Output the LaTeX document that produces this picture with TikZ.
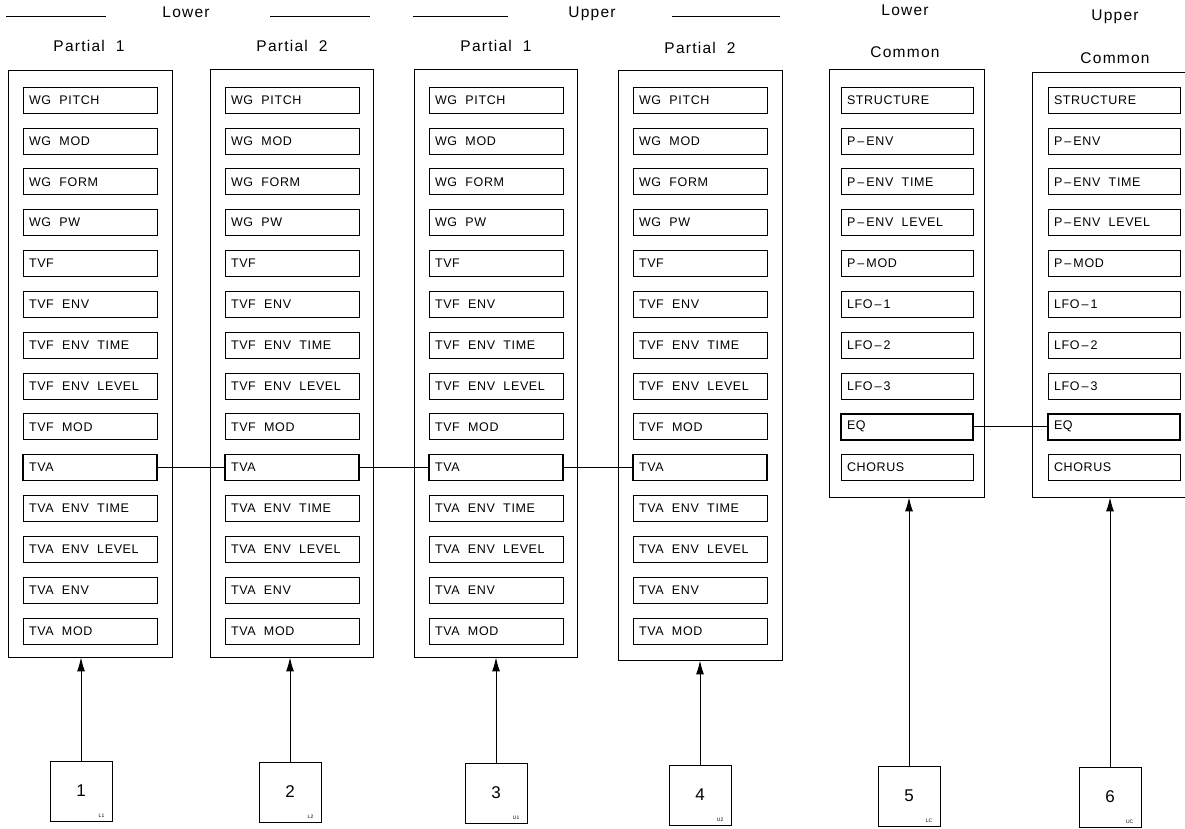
\documentclass[tikz,border=0pt]{standalone}
\usepackage{fontspec}
\newfontfamily\arialf{Liberation Sans}
\newfontfamily\arialw[LetterSpace=5]{Liberation Sans}
\newfontfamily\arialh[LetterSpace=8]{Liberation Sans}
\usetikzlibrary{arrows.meta}
\begin{document}
\begin{tikzpicture}[x=1pt,y=-1pt,
  outerbox/.style={draw, line width=0.9pt, inner sep=0pt},
  cell/.style={draw, line width=0.7pt, minimum height=26pt, inner xsep=6pt, inner ysep=0pt,
     text width=122pt, align=left, font=\arialw\fontsize{12.5}{13}\selectfont},
  ccell/.style={cell, text width=120pt},
  boldcell/.style={line width=1.6pt},
  head/.style={font=\arialh\fontsize{15.5}{17}\selectfont, inner sep=0pt},
  numbox/.style={draw, line width=1pt, minimum width=62pt, minimum height=60pt, inner sep=0pt,
     font=\arialf\fontsize{17}{19}\selectfont},
  sub/.style={font=\arialf\fontsize{5}{6}\selectfont, inner sep=0pt},
  conn/.style={line width=0.8pt},
  arr/.style={line width=1pt, -{Latex[length=14pt,width=8pt]}},
  rule/.style={line width=0.9pt}]
\useasboundingbox (0,0) rectangle (1185,828);
\fill[white] (0,0) rectangle (1185,828);

% top headers
\node[head] (hL) at (186,12) {Lower};
\node[head] (hU) at (592,14) {Upper};
\coordinate (r1a) at (6,16); \coordinate (r1b) at (106,16);
\coordinate (r2a) at (270,16); \coordinate (r2b) at (370,16);
\coordinate (r3a) at (413,16); \coordinate (r3b) at (508,16);
\coordinate (r4a) at (672,16); \coordinate (r4b) at (780,16);
\draw[rule] (r1a) -- (r1b); \draw[rule] (r2a) -- (r2b);
\draw[rule] (r3a) -- (r3b); \draw[rule] (r4a) -- (r4b);
\node[head] (hLC) at (905,10) {Lower};
\node[head] (hUC) at (1115,17) {Upper};

\node[head] (p1) at (89,46) {Partial\ \ 1};
\node[head] (p2) at (292,46) {Partial\ \ 2};
\node[head] (p3) at (496,46) {Partial\ \ 1};
\node[head] (p4) at (700,48) {Partial\ \ 2};
\node[head] (cm1) at (905,52) {Common};
\node[head] (cm2) at (1115,58) {Common};

% outer column boxes
\node[outerbox, minimum width=164pt, minimum height=587pt] (c1) at (90,363.5) {};
\node[outerbox, minimum width=163pt, minimum height=588pt] (c2) at (291.5,363) {};
\node[outerbox, minimum width=163pt, minimum height=588pt] (c3) at (495.5,363) {};
\node[outerbox, minimum width=164pt, minimum height=590pt] (c4) at (700,365) {};
\node[outerbox, minimum width=155pt, minimum height=428pt] (c5) at (906.5,283) {};
\node[outerbox, minimum width=158pt, minimum height=425pt] (c6) at (1111,284.5) {};

% partial cells
\foreach \col/\cx in {1/90,2/292,3/496,4/700}{
  \foreach \t [count=\i] in {WG\ \ PITCH,WG\ \ MOD,WG\ \ FORM,WG\ \ PW,TVF,TVF\ \ ENV,TVF\ \ ENV\ \ TIME,TVF\ \ ENV\ \ LEVEL,TVF\ \ MOD,TVA,TVA\ \ ENV\ \ TIME,TVA\ \ ENV\ \ LEVEL,TVA\ \ ENV,TVA\ \ MOD}{
    \ifnum\i=10
      \node[cell, boldcell] (k\col-\i) at (\cx,{100+40.85*(\i-1)}) {\t};
    \else
      \node[cell] (k\col-\i) at (\cx,{100+40.85*(\i-1)}) {\t};
    \fi
  }
}
% common cells
\foreach \col/\cx in {5/907,6/1114}{
  \foreach \t [count=\i] in {STRUCTURE,P\,–\,ENV,P\,–\,ENV\ \ TIME,P\,–\,ENV\ \ LEVEL,P\,–\,MOD,LFO\,–\,1,LFO\,–\,2,LFO\,–\,3,EQ,CHORUS}{
    \ifnum\i=9
      \node[ccell, boldcell] (k\col-\i) at (\cx,{100+40.85*(\i-1)}) {\t};
    \else
      \node[ccell] (k\col-\i) at (\cx,{100+40.85*(\i-1)}) {\t};
    \fi
  }
}

% links
\draw[conn] (k1-10.east) -- (k2-10.west);
\draw[conn] (k2-10.east) -- (k3-10.west);
\draw[conn] (k3-10.east) -- (k4-10.west);
\draw[conn] (k5-9.east) -- (k6-9.west);

% number boxes
\node[numbox] (b1) at (81,791) {1};
\node[numbox] (b2) at (290,792) {2};
\node[numbox] (b3) at (496,793) {3};
\node[numbox] (b4) at (700,795) {4};
\node[numbox] (b5) at (909,796) {5};
\node[numbox] (b6) at (1110,797) {6};
\foreach \b/\s in {1/L1,2/L2,3/U1,4/U2,5/LC,6/UC}{
  \node[sub, anchor=south east] (s\b) at ([xshift=-8pt,yshift=4pt]b\b.south east) {\s};
}

% arrows
\foreach \b in {1,...,6}{
  \draw[arr] (b\b.north) -- (b\b.north |- c\b.south);
}
\end{tikzpicture}
\end{document}
